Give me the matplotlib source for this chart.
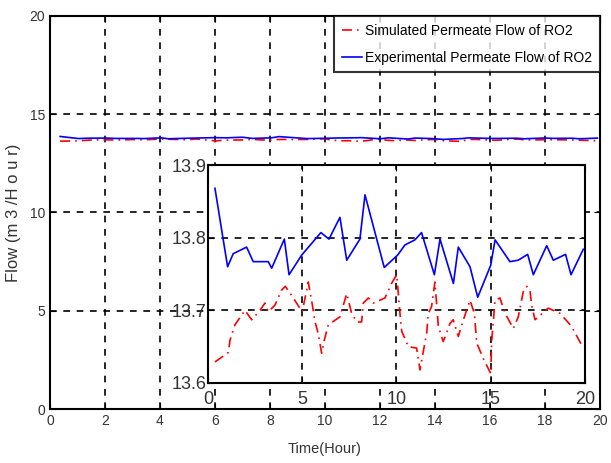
import matplotlib
matplotlib.use("Agg")
import matplotlib.pyplot as plt

plt.rcParams['font.family'] = ['Liberation Sans', 'DejaVu Sans']

# experimental permeate flow (blue), vertices
exp_time = [0.37, 1.04, 1.34, 2.05, 2.40, 3.20, 3.38, 4.05, 4.30, 4.97,
            5.99, 6.42, 7.00, 7.36, 8.06, 8.33, 9.35, 10.06, 10.45, 10.98,
            11.33, 12.01, 12.31, 13.02, 13.28, 13.90, 14.31, 15.00, 15.23, 16.02,
            16.46, 16.96, 17.26, 17.97, 18.32, 18.97, 19.26, 19.91]
exp_flow = [13.868, 13.760, 13.778, 13.787, 13.767, 13.767, 13.758, 13.798, 13.749, 13.776,
            13.807, 13.798, 13.828, 13.769, 13.798, 13.859, 13.759, 13.776, 13.790, 13.797,
            13.807, 13.749, 13.798, 13.737, 13.787, 13.760, 13.718, 13.762, 13.797, 13.767,
            13.769, 13.777, 13.749, 13.789, 13.769, 13.777, 13.749, 13.784]

# simulated permeate flow (red)
sim_time = [0.37, 1.08, 1.17, 1.43, 1.96, 2.32, 2.76, 3.02, 3.20, 3.55,
            3.91, 4.10, 4.40, 5.00, 5.32, 5.54, 5.68, 5.85, 6.03, 6.17,
            6.38, 7.00, 7.18, 7.36, 7.62, 7.89, 8.15, 8.24, 8.51, 8.77,
            9.39, 9.74, 10.01, 10.10, 10.20, 10.28, 10.63, 11.07, 11.25, 11.42,
            11.60, 11.69, 11.86, 12.04, 12.22, 12.48, 12.84, 13.01, 13.28, 13.55,
            13.90, 14.13, 14.26, 14.60, 15.00, 15.05, 15.23, 15.49, 15.76, 16.20,
            16.46, 16.73, 16.91, 17.08, 17.17, 17.35, 18.05, 18.67, 19.29, 19.91]
sim_flow = [13.629, 13.642, 13.659, 13.680, 13.700, 13.687, 13.700, 13.710, 13.698, 13.707,
            13.728, 13.733, 13.722, 13.698, 13.739, 13.707, 13.684, 13.668, 13.641, 13.659,
            13.680, 13.691, 13.707, 13.723, 13.696, 13.684, 13.684, 13.710, 13.717, 13.710,
            13.717, 13.737, 13.749, 13.723, 13.691, 13.671, 13.650, 13.648, 13.618, 13.643,
            13.668, 13.696, 13.705, 13.739, 13.678, 13.657, 13.682, 13.687, 13.664, 13.687,
            13.714, 13.696, 13.655, 13.634, 13.613, 13.657, 13.714, 13.717, 13.696, 13.675,
            13.691, 13.726, 13.733, 13.728, 13.707, 13.687, 13.703, 13.696, 13.678, 13.648]

main_xticks = [0, 2, 4, 6, 8, 10, 12, 14, 16, 18, 20]
main_yticks = [0, 5, 10, 15, 20]
inset_xticks = [0, 5, 10, 15, 20]
inset_yticks = [13.6, 13.7, 13.8, 13.9]

grid_kw = dict(color='black', linestyle=(0, (4, 4)), linewidth=1.2)
sim_style = dict(color='red', linestyle=(0, (6, 3, 1, 3)), linewidth=1.2)

fig = plt.figure(figsize=(6.11, 4.63), dpi=100)
ax = fig.add_axes([0.0818, 0.1166, 0.900, 0.849])

ax.plot(sim_time, sim_flow, label='Simulated Permeate Flow of RO2', **sim_style)
ax.plot(exp_time, exp_flow, color='blue', linewidth=1.2,
        label='Experimental Permeate Flow of RO2')
ax.set_xlim(0, 20)
ax.set_ylim(0, 20)
ax.set_xticks(main_xticks)
ax.set_yticks(main_yticks)
ax.tick_params(direction='in', top=True, right=True, labelsize=10,
               labelcolor='#333333', length=4)
ax.grid(True, **grid_kw)
for s in ax.spines.values():
    s.set_linewidth(1.5)
ax.set_xlabel('Time(Hour)', fontsize=10.5, color='#333333', labelpad=10)
ax.set_ylabel('Flow (m 3 /H o u r)', fontsize=12, color='#333333', labelpad=6)

leg = ax.legend(loc='upper right', fontsize=10, frameon=True, fancybox=False,
                borderaxespad=0, handlelength=1.5, handletextpad=0.2,
                borderpad=0.55, labelspacing=0.95)
leg.get_frame().set_edgecolor('black')
leg.get_frame().set_linewidth(1.5)
leg.set_zorder(10)

# zoomed-in inset
ins = fig.add_axes([0.3404, 0.1728, 0.617, 0.4708])
ins.plot(sim_time, sim_flow, **sim_style)
ins.plot(exp_time, exp_flow, color='blue', linewidth=1.2)
ins.set_xlim(0, 20)
ins.set_ylim(13.6, 13.9)
ins.set_xticks(inset_xticks)
ins.set_yticks(inset_yticks)
ins.set_yticklabels(['13.6', '13.7', '13.8', '13.9'])
ins.tick_params(direction='in', top=True, right=True, labelsize=13,
                labelcolor='#333333', length=4)
ins.tick_params(axis='x', pad=6)
ins.tick_params(axis='y', pad=1)
ins.grid(True, **grid_kw)
for s in ins.spines.values():
    s.set_linewidth(1.5)

fig.savefig('out.png', dpi=100)
